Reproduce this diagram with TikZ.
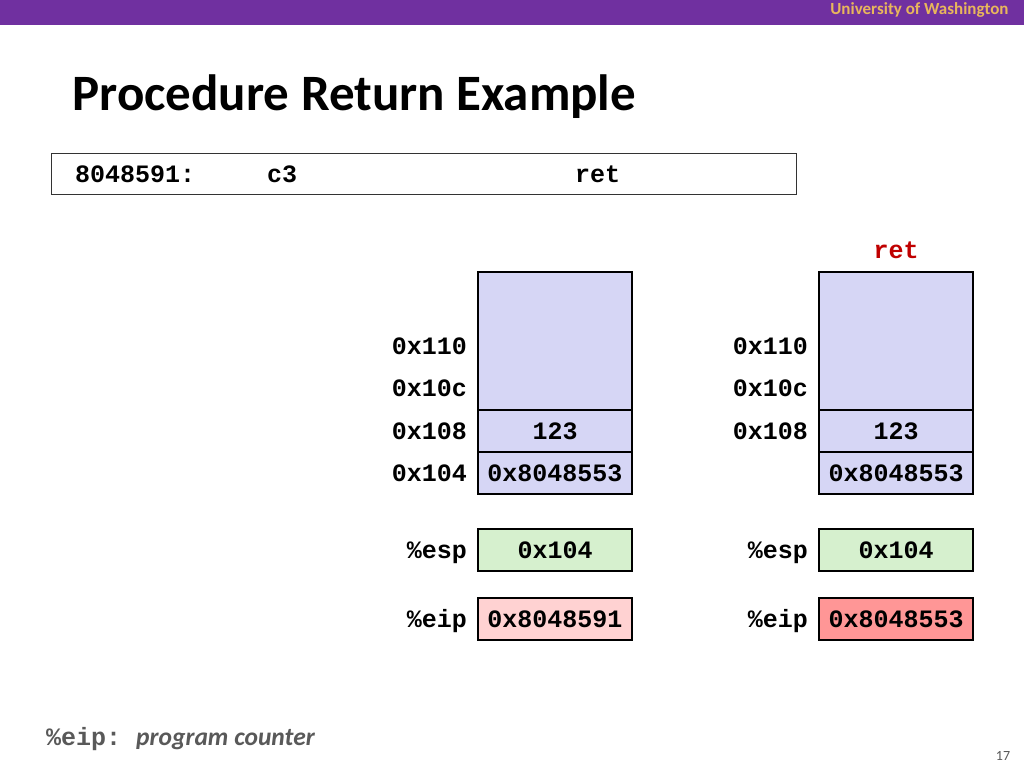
\documentclass[tikz,border=0pt]{standalone}
\usepackage{fontspec}
\setmainfont{Carlito}
\newfontfamily\codefont{Liberation Mono}
\usetikzlibrary{positioning}
\definecolor{uwpurple}{RGB}{112,48,160}
\definecolor{uwgold}{RGB}{232,182,92}
\definecolor{stackfill}{RGB}{214,214,245}
\definecolor{espfill}{RGB}{214,240,206}
\definecolor{eipold}{RGB}{255,210,210}
\definecolor{eipnew}{RGB}{255,150,150}
\definecolor{retred}{RGB}{192,0,0}
\definecolor{notegray}{RGB}{89,89,89}

\begin{document}
\begin{tikzpicture}[x=1pt, y=-1pt,
    code/.style={inner sep=0pt, text height=16.5pt, text depth=0pt, font=\codefont\bfseries\fontsize{25}{28}\selectfont},
    cell/.style={code, rectangle, draw, line width=2pt, outer sep=0pt, fill=stackfill, minimum width=154pt, minimum height=42pt},
    reg/.style={cell, fill=#1},
    addr/.style={code, minimum height=42pt}
]
    \useasboundingbox[fill=white] (0,0) rectangle (1024,768);

    % header and title
    \fill[uwpurple] (0,0) rectangle (1024,25);
    \node[anchor=east, text=uwgold, font=\bfseries\fontsize{17}{20}\selectfont] (uw) at (1012,10) {University of Washington};
    \node[anchor=base west, font=\bfseries\fontsize{51}{60}\selectfont] (title) at (69,110) {Procedure Return Example};

    % instruction
    \node[rectangle, draw=black!80, line width=1.2pt, minimum width=745pt, minimum height=41pt, anchor=north west] (instr) at (51,153) {};
    \node[code, anchor=west] (iaddr) at (75,174) {8048591:};
    \node[code, anchor=west] (ibyte) at (267,174) {c3};
    \node[code, anchor=west] (iop) at (575,174) {ret};

    % stack before
    \node[cell, minimum height=138pt, anchor=north west] (ltop) at (478,272) {};
    \node[cell, below=0pt of ltop] (lval) {123};
    \node[cell, below=0pt of lval] (lret) {0x8048553};
    \node[addr, left=11pt of lval] (la108) {0x108};
    \node[addr, left=11pt of lret] (la104) {0x104};
    \node[addr, anchor=south east] (la10c) at (la108.north east) {0x10c};
    \node[addr, anchor=south east] (la110) at (la10c.north east) {0x110};

    \node[reg=espfill, below=35pt of lret] (lesp) {0x104};
    \node[reg=eipold, below=27pt of lesp] (leip) {0x8048591};
    \node[addr, left=11pt of lesp] (lesplab) {\%esp};
    \node[addr, left=11pt of leip] (leiplab) {\%eip};

    % stack after ret
    \node[cell, minimum height=138pt, anchor=north west] (rtop) at (819,272) {};
    \node[cell, below=0pt of rtop] (rval) {123};
    \node[cell, below=0pt of rval] (rret) {0x8048553};
    \node[addr, left=11pt of rval] (ra108) {0x108};
    \node[addr, anchor=south east] (ra10c) at (ra108.north east) {0x10c};
    \node[addr, anchor=south east] (ra110) at (ra10c.north east) {0x110};
    \node[code, text=retred, above=13pt of rtop] (rop) {ret};

    \node[reg=espfill, below=35pt of rret] (resp) {0x104};
    \node[reg=eipnew, below=27pt of resp] (reip) {0x8048553};
    \node[addr, left=11pt of resp] (resplab) {\%esp};
    \node[addr, left=11pt of reip] (reiplab) {\%eip};

    % footer
    \node[anchor=base west, inner sep=0pt, text=notegray] (note) at (46,745)
        {{\codefont\bfseries\fontsize{25}{28}\selectfont\%eip:}\hspace{15pt}{\bfseries\itshape\fontsize{25.5}{30}\selectfont program counter}};
    \node[text=notegray, font=\fontsize{14}{16}\selectfont] (page) at (1003,756) {17};
\end{tikzpicture}
\end{document}
